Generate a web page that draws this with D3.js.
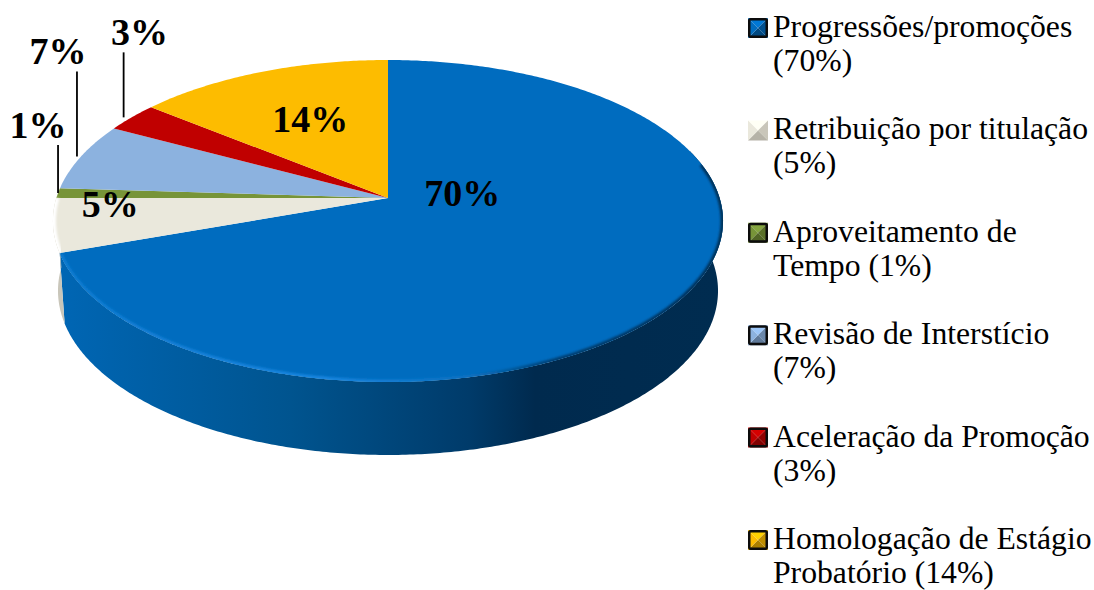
<!DOCTYPE html>
<html>
<head>
<meta charset="utf-8">
<script src="https://cdn.jsdelivr.net/npm/d3@7"></script>
<style>
    html, body { margin: 0; background: #fff; }
    svg { display: block; }
    text { font-family: "Liberation Serif", serif; fill: #000; }
</style>
</head>
<body>
<div id="chart"></div>
<script>
const categories = ["Progressões/promoções", "Retribuição por titulação", "Aproveitamento de", "Revisão de Interstício", "Aceleração da Promoção", "Homologação de Estágio"];
const legendSecondLines = ["(70%)", "(5%)", "Tempo (1%)", "(7%)", "(3%)", "Probatório (14%)"];
const percents = [69.6, 5.4, 1, 6.8, 3, 14.2];
const percentLabels = ["70%", "5%", "1%", "7%", "3%", "14%"];
const colors = ["#006cbf", "#eae8dc", "#779438", "#8cb2df", "#c00000", "#fdbc00"];
const wallColors = ["#00508f", "#c9c6ba", "#5a7029", "#6a87aa", "#900000", "#bf8e00"];

const width = 1094;
const height = 590;

// projection of the pie disc, a homography so the apex sits above the ellipse middle
const cx = 388;
const topY = 198;
const rimW = 331.6;
const rimH = 157.7;
const persp = 1 / 7;
const bottomW = 0.985;
const bottomH = 1.02;
const bottomY = 267.3;

function project(angle, r, sx, sy, y0) {
    const u = Math.sin(angle) * r;
    const v = Math.cos(angle) * r;
    const w = 1 + persp * v;
    return [cx + sx * rimW * u / w, y0 - sy * rimH * v / w];
}
const onTop = (a, r = 1) => project(a, r, 1, 1, topY);
const onBottom = a => project(a, 1, bottomW, bottomH, bottomY);
const line = d3.line();

function angleSteps(a0, a1) {
    const n = Math.max(2, Math.ceil((a1 - a0) / 0.01));
    return d3.range(n + 1).map(i => a0 + (a1 - a0) * i / n);
}

const svg = d3.select("#chart").append("svg")
    .attr("width", width)
    .attr("height", height);

const defs = svg.append("defs");
function hGradient(id, x1, x2, stops) {
    const g = defs.append("linearGradient")
        .attr("id", id)
        .attr("gradientUnits", "userSpaceOnUse")
        .attr("x1", x1).attr("x2", x2).attr("y1", 0).attr("y2", 0);
    stops.forEach(s => g.append("stop").attr("offset", s[0]).attr("stop-color", s[1]));
}
hGradient("wall0", 60, 720, [[0, "#0066b4"], [0.35, "#00548f"], [0.62, "#003b6a"], [0.72, "#002a4e"], [1, "#002c50"]]);
hGradient("bevel0", 60, 720, [[0, "#0f7bd0"], [0.4, "#1a86e0"], [0.62, "#0a70c0"], [0.75, "#003f72"], [1, "#003058"]]);
defs.append("filter").attr("id", "soft").append("feGaussianBlur").attr("stdDeviation", 1);

const slices = d3.pie().sort(null).value(d => d)(percents);

// side wall, only the front half of the rim can be seen
const wallFrom = Math.PI * 0.4;
const wallTo = Math.PI * 1.5;
const walls = svg.append("g");
slices.forEach((s, i) => {
    const a0 = Math.max(s.startAngle, wallFrom);
    const a1 = Math.min(s.endAngle, wallTo);
    if (a1 <= a0) return;
    const steps = angleSteps(a0, a1);
    const pts = steps.map(a => onTop(a)).concat(steps.slice().reverse().map(onBottom));
    walls.append("path")
        .attr("d", line(pts) + "Z")
        .attr("fill", i === 0 ? "url(#wall0)" : wallColors[i]);
});

const topFace = svg.append("g");
slices.forEach((s, i) => {
    const pts = [onTop(0, 0)].concat(angleSteps(s.startAngle, s.endAngle).map(a => onTop(a)));
    topFace.append("path")
        .attr("d", line(pts) + "Z")
        .attr("fill", colors[i]);
});

// bevel along the rim of the top face
const disc = defs.append("clipPath").attr("id", "disc");
disc.append("path").attr("d", line(angleSteps(0, Math.PI * 2).map(a => onTop(a))) + "Z");
const bevel = svg.append("g").attr("clip-path", "url(#disc)");
bevel.append("path")
    .attr("d", line(angleSteps(slices[0].startAngle + 1.35, slices[0].endAngle - 0.01).map(a => onTop(a))))
    .attr("fill", "none")
    .attr("stroke", "url(#bevel0)")
    .attr("stroke-width", 5)
    .attr("filter", "url(#soft)");
bevel.append("path")
    .attr("d", line(angleSteps(slices[1].startAngle, slices[1].endAngle).map(a => onTop(a))))
    .attr("fill", "none")
    .attr("stroke", "#fff")
    .attr("stroke-width", 6)
    .attr("filter", "url(#soft)");

// value labels: anchor on the slice middle, nudged to where the original has them
const labelRadius = [0.5, 0.85, 1, 1, 1, 0.6];
const labelNudge = [[-67, -53], [6, -17], [-20, -68], [-23, -106], [8, -85], [2, 0]];
const leaderLength = [0, 0, 48, 85, 65, 0];
const leaderNudge = [0, 0, 0, -4, -8, 0];
const midAngle = s => (s.startAngle + s.endAngle) / 2;

const labels = svg.append("g");
slices.forEach((s, i) => {
    const p = onTop(midAngle(s), labelRadius[i]);
    if (leaderLength[i] > 0) {
        labels.append("line")
            .attr("x1", p[0] + leaderNudge[i]).attr("x2", p[0] + leaderNudge[i])
            .attr("y1", p[1]).attr("y2", p[1] - leaderLength[i])
            .attr("stroke", "#000")
            .attr("stroke-width", 1.8);
    }
    labels.append("text")
        .attr("x", p[0] + labelNudge[i][0])
        .attr("y", p[1] + labelNudge[i][1])
        .attr("text-anchor", "middle")
        .attr("dominant-baseline", "central")
        .attr("font-size", 38)
        .attr("font-weight", "bold")
        .text(percentLabels[i]);
});

// legend with the small pyramid keys
const legendY = d3.scalePoint().domain(d3.range(categories.length)).range([0, 512]);
const legendX = 773;
const keyX = 748;
const keySize = 20;
const legend = svg.append("g");
categories.forEach((name, i) => {
    const row = legend.append("g").attr("transform", `translate(0, ${legendY(i)})`);
    const k = row.append("g").attr("transform", `translate(${keyX}, 18)`);
    const base = d3.color(colors[i]);
    const dark = d3.color(wallColors[i]);
    const edge = [base.brighter(0.3), dark, dark.darker(0.3), base];
    const s = keySize;
    const m = s / 2;
    const sides = [
        [[0, 0], [s, 0], [m, m]],
        [[s, 0], [s, s], [m, m]],
        [[s, s], [0, s], [m, m]],
        [[0, s], [0, 0], [m, m]]
    ];
    sides.forEach((pts, j) => {
        k.append("path").attr("d", line(pts) + "Z").attr("fill", edge[j]);
    });
    // the beige key is the only one without a dark frame
    if (i !== 1) {
        k.append("rect").attr("x", 1.25).attr("y", 1.25).attr("width", s - 2.5).attr("height", s - 2.5)
            .attr("rx", 1.5)
            .attr("fill", "none").attr("stroke", "#0c0c0c").attr("stroke-width", 2.5);
    }
    row.append("text").attr("x", legendX).attr("y", 37).attr("font-size", 31.7).text(name);
    row.append("text").attr("x", legendX).attr("y", 71).attr("font-size", 31.7).text(legendSecondLines[i]);
});
</script>
</body>
</html>
